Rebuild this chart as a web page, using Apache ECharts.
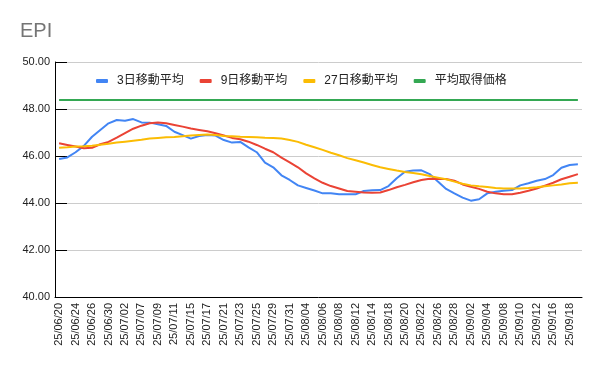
<!DOCTYPE html>
<html>
<head>
<meta charset="utf-8">
<script src="https://cdn.jsdelivr.net/npm/echarts@6/dist/echarts.min.js"></script>
<style>html,body{margin:0;padding:0;background:#fff;}#c{width:600px;height:371px;}</style>
</head>
<body>
<div id="c"></div>
<script>
const dates = ["25/06/20","25/06/23","25/06/24","25/06/25","25/06/26","25/06/27","25/06/30","25/07/01","25/07/02","25/07/03",
"25/07/07","25/07/08","25/07/09","25/07/10","25/07/11","25/07/14","25/07/15","25/07/16","25/07/17","25/07/18",
"25/07/21","25/07/22","25/07/23","25/07/24","25/07/25","25/07/28","25/07/29","25/07/30","25/07/31","25/08/01",
"25/08/04","25/08/05","25/08/06","25/08/07","25/08/08","25/08/11","25/08/12","25/08/13","25/08/14","25/08/15",
"25/08/18","25/08/19","25/08/20","25/08/21","25/08/22","25/08/25","25/08/26","25/08/27","25/08/28","25/08/29",
"25/09/02","25/09/03","25/09/04","25/09/05","25/09/08","25/09/09","25/09/10","25/09/11","25/09/12","25/09/15",
"25/09/16","25/09/17","25/09/18","25/09/19"];

const ma3 = [45.87,45.94,46.16,46.43,46.82,47.11,47.39,47.53,47.50,47.57,
47.43,47.42,47.35,47.28,47.03,46.89,46.74,46.85,46.89,46.87,
46.68,46.57,46.60,46.37,46.16,45.72,45.52,45.18,44.98,44.75,
44.64,44.53,44.41,44.41,44.37,44.37,44.37,44.51,44.54,44.55,
44.72,45.05,45.33,45.38,45.39,45.23,44.91,44.60,44.41,44.23,
44.10,44.16,44.41,44.48,44.52,44.55,44.75,44.84,44.95,45.02,
45.19,45.50,45.62,45.65];

const ma9 = [46.54,46.47,46.40,46.33,46.35,46.50,46.60,46.78,46.97,47.16,
47.29,47.39,47.43,47.39,47.32,47.25,47.17,47.11,47.05,46.97,
46.87,46.77,46.71,46.61,46.47,46.31,46.16,45.93,45.73,45.52,
45.26,45.05,44.86,44.72,44.62,44.51,44.48,44.45,44.44,44.45,
44.55,44.67,44.77,44.88,44.98,45.03,45.02,45.02,44.95,44.79,
44.69,44.60,44.48,44.41,44.37,44.37,44.44,44.52,44.62,44.74,
44.86,45.01,45.12,45.23];

const ma27 = [46.35,46.37,46.40,46.41,46.44,46.48,46.52,46.57,46.61,46.65,
46.69,46.74,46.77,46.80,46.81,46.84,46.87,46.89,46.91,46.89,
46.85,46.84,46.82,46.81,46.80,46.78,46.77,46.74,46.68,46.60,
46.48,46.37,46.26,46.14,46.03,45.91,45.82,45.72,45.62,45.52,
45.45,45.38,45.32,45.28,45.22,45.15,45.08,45.01,44.91,44.82,
44.75,44.71,44.68,44.64,44.62,44.62,44.62,44.64,44.67,44.71,
44.75,44.79,44.84,44.86];

const avgCost = [48.38,48.38,48.38,48.38,48.38,48.38,48.38,48.38,48.38,48.38,
48.38,48.38,48.38,48.38,48.38,48.38,48.38,48.38,48.38,48.38,
48.38,48.38,48.38,48.38,48.38,48.38,48.38,48.38,48.38,48.38,
48.38,48.38,48.38,48.38,48.38,48.38,48.38,48.38,48.38,48.38,
48.38,48.38,48.38,48.38,48.38,48.38,48.38,48.38,48.38,48.38,
48.38,48.38,48.38,48.38,48.38,48.38,48.38,48.38,48.38,48.38,
48.38,48.38,48.38,48.38];

const seriesNames = ["3日移動平均","9日移動平均","27日移動平均","平均取得価格"];
const colors = ["#4285F4","#EA4335","#FBBC04","#34A853"];
const yTicks = {min: 40, max: 50, interval: 2};

const font = '"Liberation Sans", Arial, "Noto Sans CJK JP", sans-serif';
const chart = echarts.init(document.getElementById('c'), null, {renderer: 'canvas'});
const mk = (name, data, color) => ({
  name, type: 'line', data, showSymbol: false, symbol: 'none',
  lineStyle: {width: 2, color}, itemStyle: {color},
  smooth: false, animation: false
});
chart.setOption({
  animation: false,
  textStyle: {fontFamily: font},
  title: {
    text: 'EPI', left: 15, top: 16,
    textStyle: {fontFamily: font, fontSize: 20, fontWeight: 'normal', color: '#757575'}
  },
  legend: {
    top: 70, left: 91,
    itemWidth: 12, itemHeight: 4, itemGap: 16,
    icon: 'roundRect',
    textStyle: {fontFamily: font, fontSize: 12, color: '#222', padding: [0, 0, 0, 4]},
    data: seriesNames
  },
  grid: {left: 55, right: 18, top: 62, bottom: 74, containLabel: false},
  xAxis: {
    type: 'category', data: dates, boundaryGap: true,
    axisLine: {lineStyle: {color: '#000', width: 1}},
    axisTick: {show: false},
    axisLabel: {interval: 1, rotate: 90, fontSize: 11, color: '#222', fontFamily: font, margin: 6},
    splitLine: {show: false}
  },
  yAxis: {
    type: 'value', min: yTicks.min, max: yTicks.max, interval: yTicks.interval,
    axisLine: {show: true, lineStyle: {color: '#000', width: 1}},
    axisTick: {show: true, inside: true, length: 12, lineStyle: {color: '#000'}},
    axisLabel: {fontSize: 11, color: '#222', fontFamily: font, margin: 5,
      formatter: v => v.toFixed(2)},
    splitLine: {show: true, lineStyle: {color: '#cccccc', width: 1}}
  },
  series: [
    mk(seriesNames[0], ma3, colors[0]),
    mk(seriesNames[1], ma9, colors[1]),
    mk(seriesNames[2], ma27, colors[2]),
    mk(seriesNames[3], avgCost, colors[3])
  ]
});
</script>
</body>
</html>
